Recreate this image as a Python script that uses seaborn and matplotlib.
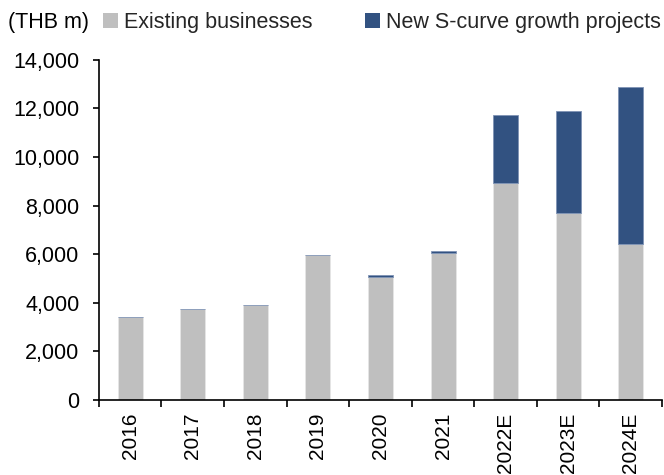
import matplotlib
matplotlib.use("Agg")
import matplotlib.pyplot as plt
import seaborn as sns
import pandas as pd
from matplotlib.ticker import FuncFormatter, FixedLocator
from matplotlib.patches import Patch

years = ["2016", "2017", "2018", "2019", "2020", "2021", "2022E", "2023E", "2024E"]
existing = [3400, 3750, 3900, 5970, 5050, 6050, 8950, 7700, 6400]
new_scurve = [0, 0, 0, 0, 100, 100, 2800, 4200, 6500]

sns.set_theme(style="white")
plt.rcParams['font.family'] = ['Liberation Sans', 'DejaVu Sans']

grey = "#BFBFBF"
blue = "#325281"
fs = 15.5

df = pd.DataFrame({"year": years, "existing": existing, "new": new_scurve})

fig = plt.figure(figsize=(6.64, 4.75), dpi=100)
ax = fig.add_axes([0.149, 0.158, 0.848, 0.716])

sns.barplot(data=df, x="year", y="existing", color=grey, width=0.4, ax=ax,
            saturation=1, edgecolor="#E6E6E6", linewidth=0.6)
sns.barplot(data=df, x="year", y="new", color=blue, width=0.4, ax=ax,
            saturation=1, bottom=df["existing"], edgecolor="#7F93B5", linewidth=0.6)

ax.set_ylim(0, 14000)
ax.set_xlim(-0.5, len(years) - 0.5)
ax.set_yticks(range(0, 14001, 2000))
ax.yaxis.set_major_formatter(FuncFormatter(lambda v, p: f"{int(v):,}"))
ax.set_xlabel("")
ax.set_ylabel("")

for s in ["top", "right"]:
    ax.spines[s].set_visible(False)
for s in ["left", "bottom"]:
    ax.spines[s].set_color("black")
    ax.spines[s].set_linewidth(1.2)

ax.tick_params(axis="y", which="major", direction="out", length=4, width=1.2,
               color="black", labelsize=fs, labelcolor="black", left=True, pad=10)
ax.set_xticks(range(len(years)))
ax.set_xticklabels(years, rotation=90)
ax.tick_params(axis="x", which="major", length=0, labelsize=15, labelcolor="black", pad=9)
ax.xaxis.set_minor_locator(FixedLocator([i - 0.5 for i in range(len(years) + 1)]))
ax.tick_params(axis="x", which="minor", direction="out", length=5, width=1.2,
               color="black", bottom=True)

fig.text(0.012, 0.953, "(THB m)", fontsize=fs, color="black", va="center", ha="left")
handles = [Patch(facecolor=grey, edgecolor="none", label="Existing businesses"),
           Patch(facecolor=blue, edgecolor="none", label="New S-curve growth projects")]
fig.legend(handles=handles, loc="center left", bbox_to_anchor=(0.155, 0.953), ncol=2,
           frameon=False, fontsize=fs, handlelength=0.7, handleheight=0.7,
           handletextpad=0.3, columnspacing=2.4, borderaxespad=0, borderpad=0)

fig.savefig("out.png", dpi=100)
